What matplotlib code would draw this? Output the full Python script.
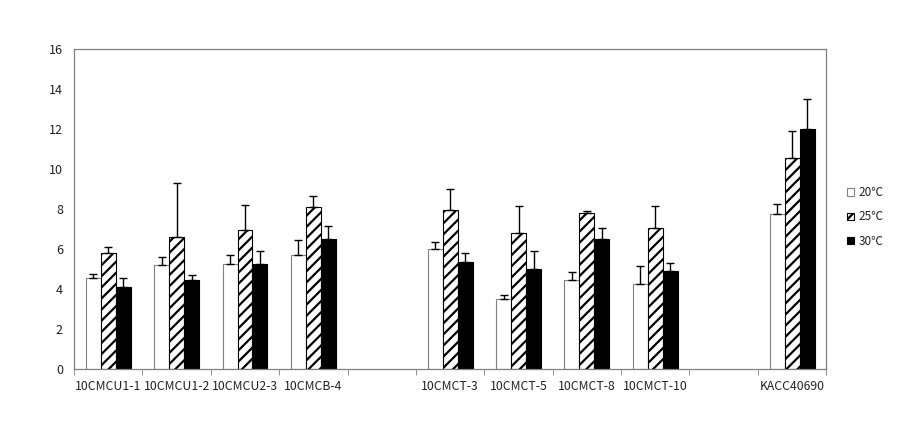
import numpy as np
import matplotlib
matplotlib.use('Agg')
import matplotlib.pyplot as plt

plt.rcParams['font.family'] = ['Noto Sans CJK KR', 'DejaVu Sans']
plt.rcParams['hatch.linewidth'] = 1.6

# data (empty strings are the blank gaps)
strains = ['10CMCU1-1', '10CMCU1-2', '10CMCU2-3', '10CMCB-4', '',
           '10CMCT-3', '10CMCT-5', '10CMCT-8', '10CMCT-10', '', 'KACC40690']
temps = ['20℃', '25℃', '30℃']

t20 = [4.55, 5.20, 5.25, 5.70, np.nan, 6.00, 3.49, 4.45, 4.25, np.nan, 7.76]
t25 = [5.80, 6.60, 6.95, 8.11, np.nan, 7.96, 6.82, 7.82, 7.06, np.nan, 10.57]
t30 = [4.10, 4.45, 5.27, 6.50, np.nan, 5.35, 5.01, 6.50, 4.90, np.nan, 12.02]

e20 = [0.20, 0.40, 0.45, 0.77, np.nan, 0.35, 0.20, 0.40, 0.90, np.nan, 0.50]
e25 = [0.30, 2.70, 1.27, 0.55, np.nan, 1.05, 1.34, 0.09, 1.10, np.nan, 1.35]
e30 = [0.45, 0.23, 0.63, 0.64, np.nan, 0.45, 0.89, 0.56, 0.40, np.nan, 1.50]

fig = plt.figure(figsize=(9.03, 4.4), dpi=100)
ax = fig.add_axes([0.082, 0.1614, 0.833, 0.7266])

x = np.arange(len(strains))
w = 0.219
grey = '#808080'
txt = '#222222'

styles = [
    dict(color='white', edgecolor=grey, hatch=None),
    dict(color='white', edgecolor='black', hatch='///'),
    dict(color='black', edgecolor='black', hatch=None),
]
for i, (vals, errs, st, lab) in enumerate(zip([t20, t25, t30], [e20, e25, e30], styles, temps)):
    pos = x + (i - 1) * w
    ax.bar(pos, vals, width=w, color=st['color'], edgecolor=st['edgecolor'],
           hatch=st['hatch'], linewidth=0.8, label=lab, zorder=2)
    lo = np.zeros(len(errs))
    ax.errorbar(pos, vals, yerr=[lo, errs], fmt='none', ecolor='black',
                elinewidth=1.0, capsize=2.6, capthick=1.0, zorder=3)

ax.set_xlim(-0.5, len(strains) - 0.5)
ax.set_ylim(0, 16)
ax.set_yticks(np.arange(0, 17, 2))
ax.set_xticks(x)
ax.set_xticklabels(strains)
ax.set_xticks(np.arange(-0.5, len(strains), 1), minor=True)
ax.tick_params(axis='x', which='major', length=0, pad=8, labelsize=8.8, labelcolor=txt)
ax.tick_params(axis='x', which='minor', length=4, color=grey, direction='out')
ax.tick_params(axis='y', length=0, pad=8, labelsize=9, labelcolor=txt)

for s in ax.spines.values():
    s.set_color(grey)
    s.set_linewidth(0.9)

fig.legend(loc='center left', bbox_to_anchor=(0.938, 0.507), frameon=False,
           fontsize=8.5, handlelength=0.6, handleheight=0.6, handletextpad=0.35,
           labelspacing=0.95, borderpad=0, borderaxespad=0, labelcolor=txt)

fig.savefig('out.png', dpi=100)
